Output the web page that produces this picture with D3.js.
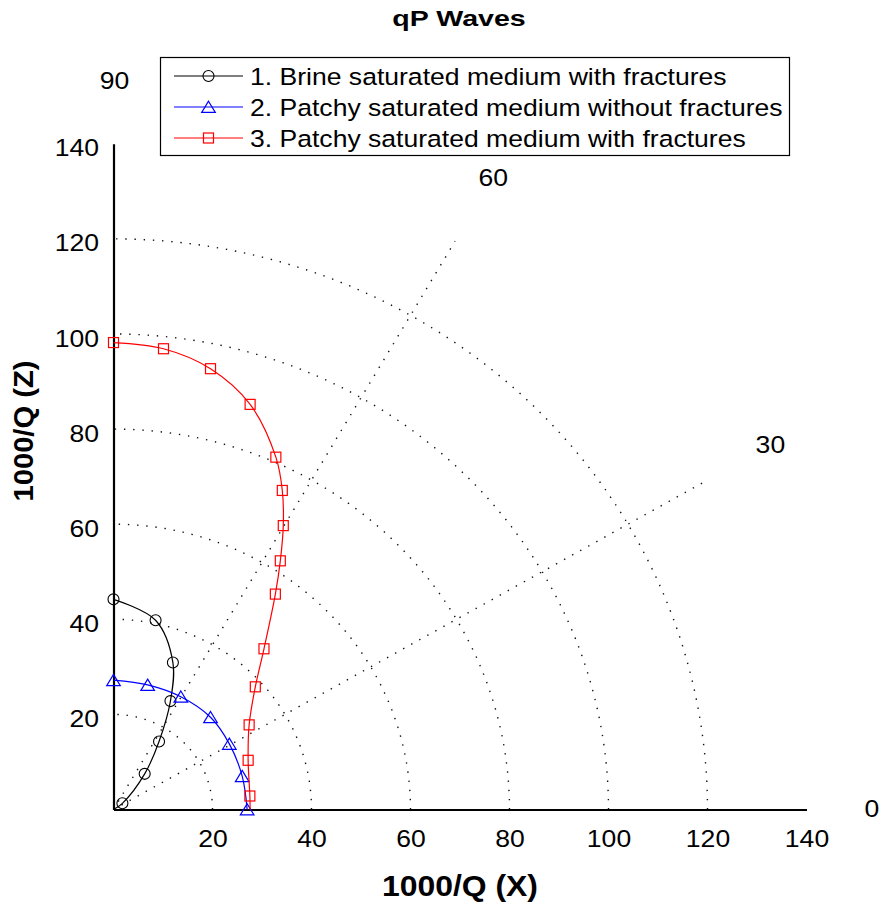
<!DOCTYPE html>
<html>
<head>
<meta charset="utf-8">
<script src="https://cdn.jsdelivr.net/npm/d3@7"></script>
<style>
  body { margin: 0; background: #fff; }
  svg { display: block; }
  text { font-family: "Liberation Sans", Arial, Helvetica, sans-serif; fill: #000; }
</style>
</head>
<body>
<svg id="chart" width="883" height="905"></svg>
<script>
// Axis ticks, polar grid rings and spokes (degrees)
const axisTicks = [20, 40, 60, 80, 100, 120, 140];
const ringValues = [20, 40, 60, 80, 100, 120];
const spokeAngles = [30, 60];
const angleLabels = [0, 30, 60, 90];

const seriesNames = [
  "1. Brine saturated medium with fractures",
  "2. Patchy saturated medium without fractures",
  "3. Patchy saturated medium with fractures"
];

// 1. Brine saturated medium with fractures (1000/Q in X and Z)
const brineX = [0, 8.5, 12.0, 11.5, 9.2, 6.3, 1.8];
const brineZ = [44.2, 39.8, 30.9, 22.8, 14.3, 7.5, 1.3];
const brineEnd = [0, 0];

// 2. Patchy saturated medium without fractures
const patchyX = [0, 6.9, 13.6, 19.6, 23.4, 26.0, 27.0];
const patchyZ = [27.2, 26.2, 23.7, 19.4, 13.8, 7.0, 0];

// 3. Patchy saturated medium with fractures
const patchyFracX = [0, 10.1, 19.6, 27.6, 32.8, 34.1, 34.3, 33.7, 32.7, 30.4, 28.65, 27.4, 27.2, 27.55];
const patchyFracZ = [98.2, 96.9, 92.7, 85.2, 74.1, 67.1, 59.7, 52.3, 45.3, 33.8, 25.8, 17.8, 10.35, 2.84];
const patchyFracEnd = [27.6, 0];

const svg = d3.select("#chart");
const x = d3.scaleLinear().domain([0, 140]).range([113.5, 806.5]);
const y = d3.scaleLinear().domain([0, 140]).range([809.5, 143.8]);

const SX = 1.14;          // horizontal text stretch
const FONT = 23.3;

function label(g, tx, ty, str, opts = {}) {
  const t = g.append("text")
    .attr("transform", `translate(${tx},${ty})` + (opts.rotate ? ` rotate(${opts.rotate})` : "") + ` scale(${opts.sx || SX},1)`)
    .attr("text-anchor", opts.anchor || "middle")
    .style("font-size", (opts.size || FONT) + "px")
    .style("font-weight", opts.bold ? "bold" : "normal")
    .text(str);
  return t;
}

const polar = (r, deg) => [x(r * Math.cos(deg * Math.PI / 180)), y(r * Math.sin(deg * Math.PI / 180))];
const dotted = { stroke: "#111", width: 1.4, dash: "1.4 7.8" };

// grid rings
const grid = svg.append("g");
const angleSteps = d3.range(0, 90.001, 0.5);
ringValues.forEach(r => {
  grid.append("path")
    .attr("d", d3.line()(angleSteps.map(a => polar(r, a))))
    .attr("fill", "none")
    .attr("stroke", dotted.stroke)
    .attr("stroke-width", dotted.width)
    .attr("stroke-dasharray", dotted.dash);
});
// grid spokes
spokeAngles.forEach(a => {
  const [x1, y1] = polar(0, a), [x2, y2] = polar(138, a);
  grid.append("line")
    .attr("x1", x1).attr("y1", y1).attr("x2", x2).attr("y2", y2)
    .attr("stroke", dotted.stroke)
    .attr("stroke-width", dotted.width)
    .attr("stroke-dasharray", dotted.dash);
});

// axes
const xAxis = svg.append("g").attr("transform", `translate(0,${y(0)})`)
  .call(d3.axisBottom(x).tickValues(axisTicks).tickSize(0).tickSizeOuter(0).tickPadding(0));
const yAxis = svg.append("g").attr("transform", `translate(${x(0)},0)`)
  .call(d3.axisLeft(y).tickValues(axisTicks).tickSize(0).tickSizeOuter(0).tickPadding(0));
[xAxis, yAxis].forEach(a => {
  a.select(".domain").attr("stroke", "#000").attr("stroke-width", 2.2);
  a.attr("font-family", null).attr("font-size", null);
});
xAxis.selectAll(".tick text")
  .attr("x", null).attr("y", null).attr("dy", null)
  .attr("transform", `translate(0,37) scale(${SX},1)`)
  .style("font-size", FONT + "px");
yAxis.selectAll(".tick text")
  .attr("x", null).attr("dy", null)
  .attr("transform", `translate(-14.5,12) scale(${SX},1)`)
  .style("font-size", FONT + "px");

// angle labels around the quadrant
angleLabels.forEach(a => {
  const [px, py] = polar(153, a);
  label(svg, px + 1, py + 7, String(a));
});

// series
const series = [
  { xs: brineX, zs: brineZ, end: brineEnd, color: "#000000", marker: "circle" },
  { xs: patchyX, zs: patchyZ, end: null, color: "#0000ff", marker: "triangle" },
  { xs: patchyFracX, zs: patchyFracZ, end: patchyFracEnd, color: "#ff0000", marker: "square" }
];

function drawMarker(g, kind, color, cx, cy) {
  if (kind === "circle") {
    g.append("circle").attr("cx", cx).attr("cy", cy).attr("r", 5.5)
      .attr("fill", "none").attr("stroke", color).attr("stroke-width", 1.1);
  } else if (kind === "triangle") {
    g.append("path").attr("d", `M${cx},${cy - 5.8}L${cx + 6.8},${cy + 5.4}L${cx - 6.8},${cy + 5.4}Z`)
      .attr("fill", "none").attr("stroke", color).attr("stroke-width", 1.2);
  } else {
    g.append("rect").attr("x", cx - 5).attr("y", cy - 5).attr("width", 10).attr("height", 10)
      .attr("fill", "none").attr("stroke", color).attr("stroke-width", 1.2);
  }
}

const plot = svg.append("g");
const curve = d3.line().x(d => x(d[0])).y(d => y(d[1])).curve(d3.curveCatmullRom.alpha(0.5));
series.forEach(s => {
  const pts = s.xs.map((v, i) => [v, s.zs[i]]);
  const linePts = s.end ? pts.concat([s.end]) : pts;
  plot.append("path").attr("d", curve(linePts))
    .attr("fill", "none").attr("stroke", s.color).attr("stroke-width", 1.2);
  pts.forEach(p => drawMarker(plot, s.marker, s.color, x(p[0]), y(p[1])));
});

// legend
const legend = svg.append("g");
legend.append("rect").attr("x", 160.5).attr("y", 57.5).attr("width", 629).attr("height", 98)
  .attr("fill", "#fff").attr("stroke", "#000").attr("stroke-width", 1.2);
const rowY = [76, 107, 138];
series.forEach((s, i) => {
  legend.append("line").attr("x1", 174).attr("x2", 243).attr("y1", rowY[i]).attr("y2", rowY[i])
    .attr("stroke", s.color).attr("stroke-width", 1.2);
  drawMarker(legend, s.marker, s.color, 208.5, rowY[i]);
  label(legend, 250, rowY[i] + 8.5, seriesNames[i], { anchor: "start" });
});

// titles
label(svg, 459, 26, "qP Waves", { bold: true, size: 22, sx: 1.3 });
label(svg, 460, 896, "1000/Q (X)", { bold: true, size: 29, sx: 1.1 });
label(svg, 33, 431, "1000/Q (Z)", { bold: true, size: 27, sx: 1.08, rotate: -90 });
</script>
</body>
</html>
